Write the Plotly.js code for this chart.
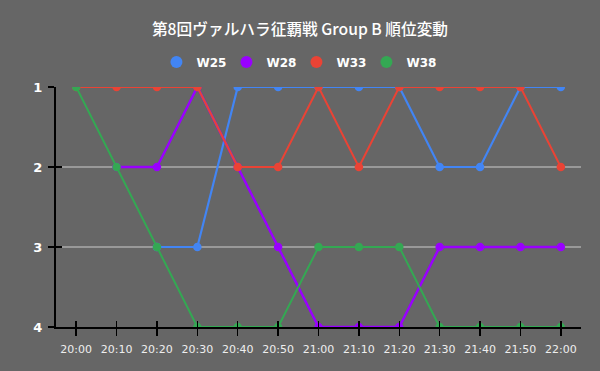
<!DOCTYPE html>
<html>
<head>
<meta charset="utf-8">
<script src="https://cdn.plot.ly/plotly-3.0.1.min.js"></script>
<style>html,body{margin:0;padding:0;background:#666666;}#chart{width:600px;height:371px;}</style>
</head>
<body>
<div id="chart"></div>
<script>
const titleText = '第8回ヴァルハラ征覇戦 Group B 順位変動';
const timeLabels = ['20:00','20:10','20:20','20:30','20:40','20:50','21:00','21:10','21:20','21:30','21:40','21:50','22:00'];
const seriesNames = ['W25','W28','W33','W38'];
const w25 = [null,null,3,3,1,1,1,1,1,2,2,1,1];
const w28 = [null,2,2,1,2,3,4,4,4,3,3,3,3];
const w33 = [1,1,1,1,2,2,1,2,1,1,1,1,2];
const w38 = [1,2,3,4,4,4,3,3,3,4,4,4,4];
const rankTicks = [1,2,3,4];

const colors = ['#4285f4','#9900ff','#ea4335','#34a853'];
const widths = [2.2,2.5,2,2];
const seriesValues = [w25,w28,w33,w38];
const idx = timeLabels.map((_,i)=>i);

const traces = [];
seriesValues.forEach((vals,k)=>{
  traces.push({
    x: idx, y: vals, type:'scatter', mode:'lines+markers',
    name: seriesNames[k], legendgroup: seriesNames[k], showlegend:false,
    line:{color:colors[k], width:widths[k]},
    marker:{color:colors[k], size:8.5},
    connectgaps:false, hoverinfo:'x+y'
  });
});
seriesValues.forEach((vals,k)=>{
  traces.push({
    x:[null], y:[null], type:'scatter', mode:'markers',
    xaxis:'x2', yaxis:'y2',
    name: seriesNames[k], legendgroup: seriesNames[k], showlegend:true,
    marker:{color:colors[k], size:12}
  });
});

const layout = {
  width:600, height:371,
  paper_bgcolor:'#666666', plot_bgcolor:'#666666',
  margin:{l:56, r:19, t:87, b:44},
  title:{text:titleText, x:0.5, xanchor:'center', y:1-30/371, yanchor:'middle',
    font:{family:'Noto Sans CJK JP, sans-serif', size:15.7, color:'#ffffff', weight:500}},
  showlegend:true,
  legend:{orientation:'h', x:0.458, xanchor:'center', y:1.165, yanchor:'top',
    font:{family:'DejaVu Sans, sans-serif', size:12, color:'#ffffff', weight:'bold'},
    itemwidth:30, entrywidth:25, bgcolor:'rgba(0,0,0,0)', traceorder:'normal'},
  xaxis:{
    type:'linear', range:[-0.5,12.5], tickmode:'array', tickvals:idx, ticktext:timeLabels,
    showgrid:false, zeroline:false, showline:true, linecolor:'#000000', linewidth:2,
    ticks:'outside', ticklen:7, tickwidth:1.5, tickcolor:'#000000', ticklabelstandoff:4,
    tickfont:{family:'DejaVu Sans, sans-serif', size:11, color:'#eeeeee'},
    layer:'below traces', fixedrange:true
  },
  xaxis2:{
    type:'linear', range:[-0.5,12.5], tickmode:'array', tickvals:idx, overlaying:'x', anchor:'y',
    side:'bottom', showgrid:false, zeroline:false, showline:false, showticklabels:false,
    ticks:'inside', ticklen:6, tickwidth:1.5, tickcolor:'#000000', fixedrange:true
  },
  yaxis:{
    range:[4,1], tickmode:'array', tickvals:rankTicks, ticktext:rankTicks.map(String),
    showgrid:true, gridcolor:'#999999', gridwidth:1.5, zeroline:false,
    showline:true, linecolor:'#000000', linewidth:2,
    ticks:'outside', ticklen:6, tickwidth:1.5, tickcolor:'#000000', ticklabelstandoff:3,
    tickfont:{family:'DejaVu Sans, sans-serif', size:13, color:'#ffffff', weight:'bold'},
    layer:'below traces', fixedrange:true
  },
  yaxis2:{
    range:[4,1], tickmode:'array', tickvals:rankTicks, overlaying:'y', anchor:'x', side:'left',
    showgrid:false, zeroline:false, showline:false, showticklabels:false,
    ticks:'inside', ticklen:6, tickwidth:1.5, tickcolor:'#000000', fixedrange:true
  }
};

Plotly.newPlot('chart', traces, layout, {displayModeBar:false, staticPlot:true});
</script>
</body>
</html>
